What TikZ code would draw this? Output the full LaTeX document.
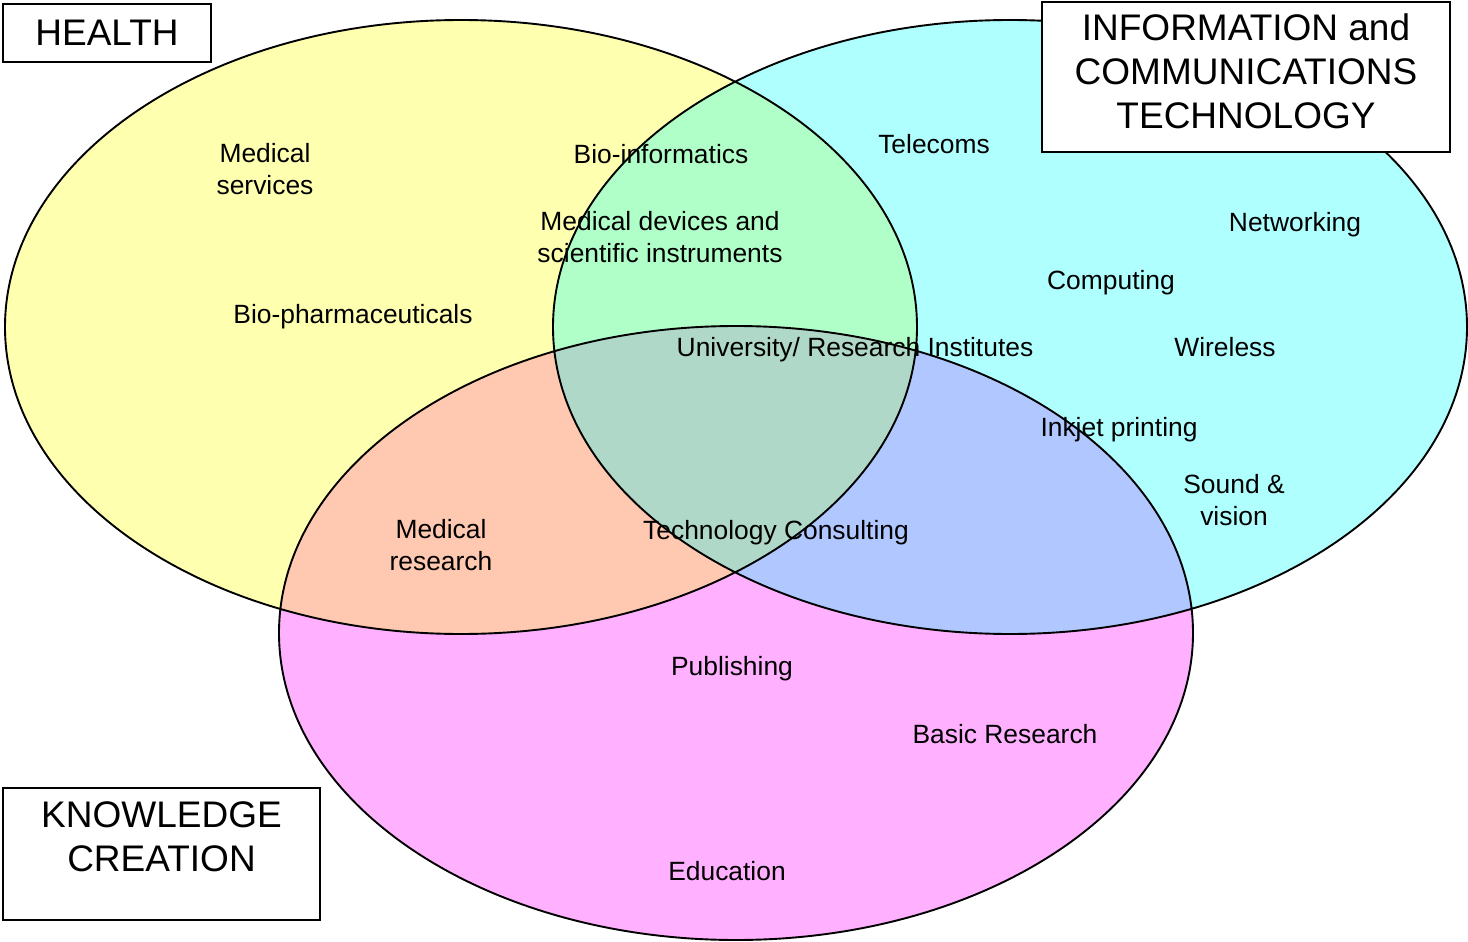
\documentclass[tikz,border=0pt]{standalone}
\usepackage{fontspec}
\setmainfont{Liberation Sans}
\definecolor{hyellow}{HTML}{FFFFB0}
\definecolor{icyan}{HTML}{B0FFFF}
\definecolor{kpink}{HTML}{FFB0FF}
\definecolor{higreen}{HTML}{B0FFC8}
\definecolor{hkpeach}{HTML}{FFC8B0}
\definecolor{ikblue}{HTML}{B0C8FF}
\definecolor{allgrey}{HTML}{B0D8C8}
\def\health{(461,327) ellipse [x radius=456, y radius=307]}
\def\ict{(1010,327) ellipse [x radius=457, y radius=307]}
\def\know{(736,633) ellipse [x radius=457, y radius=307]}
\begin{document}
\begin{tikzpicture}[x=1pt,y=-1pt]
        \useasboundingbox (0,0) rectangle (1468,942);
        % the three sets
        \fill[hyellow] \health;
        \fill[icyan] \ict;
        \fill[kpink] \know;
        \begin{scope}
        \clip \ict;
        \fill[ikblue] \know;
        \end{scope}
        \begin{scope}
        \clip \health;
        \fill[higreen] \ict;
        \fill[hkpeach] \know;
        \clip \ict;
        \fill[allgrey] \know;
        \end{scope}
        \draw[line width=1.9pt] \health \ict \know;
        % labels
        \begin{scope}[every node/.style={font=\fontsize{26.4}{32}\selectfont,align=center}]
        \node (ms) at (265,169) {Medical\\services};
        \node[anchor=base] (bi) at (661,163) {Bio-informatics};
        \node (md) at (660,237) {Medical devices and\\scientific instruments};
        \node[anchor=base] (bp) at (353,323) {Bio-pharmaceuticals};
        \node[anchor=base] (tc) at (934,153) {Telecoms};
        \node[anchor=base] (nw) at (1295,231) {Networking};
        \node[anchor=base] (cp) at (1111,289) {Computing};
        \node[anchor=base] (ur) at (855,356) {University/ Research Institutes};
        \node[anchor=base] (wl) at (1225,356) {Wireless};
        \node[anchor=base] (ip) at (1119,436) {Inkjet printing};
        \node (sv) at (1234,500) {Sound \&\\vision};
        \node (mr) at (441,545) {Medical\\research};
        \node[anchor=base] (tcs) at (776,539) {Technology Consulting};
        \node[anchor=base] (pb) at (732,675) {Publishing};
        \node[anchor=base] (br) at (1005,743) {Basic Research};
        \node[anchor=base] (ed) at (727,880) {Education};
        \end{scope}
        % titles
        \begin{scope}[every node/.style={draw,line width=1.9pt,fill=white,inner sep=0pt,font=\fontsize{37}{44}\selectfont}]
        \node[minimum width=208pt,minimum height=58pt] (h) at (107,33) {HEALTH};
        \node (i) at (1246,77) {\parbox[c][150pt][t]{408pt}{\centering\vspace*{11.5pt}INFORMATION and\\COMMUNICATIONS\\TECHNOLOGY}};
        \node (k) at (161.5,854) {\parbox[c][132pt][t]{317pt}{\centering\vspace*{13.5pt}KNOWLEDGE\\CREATION}};
        \end{scope}
\end{tikzpicture}
\end{document}
